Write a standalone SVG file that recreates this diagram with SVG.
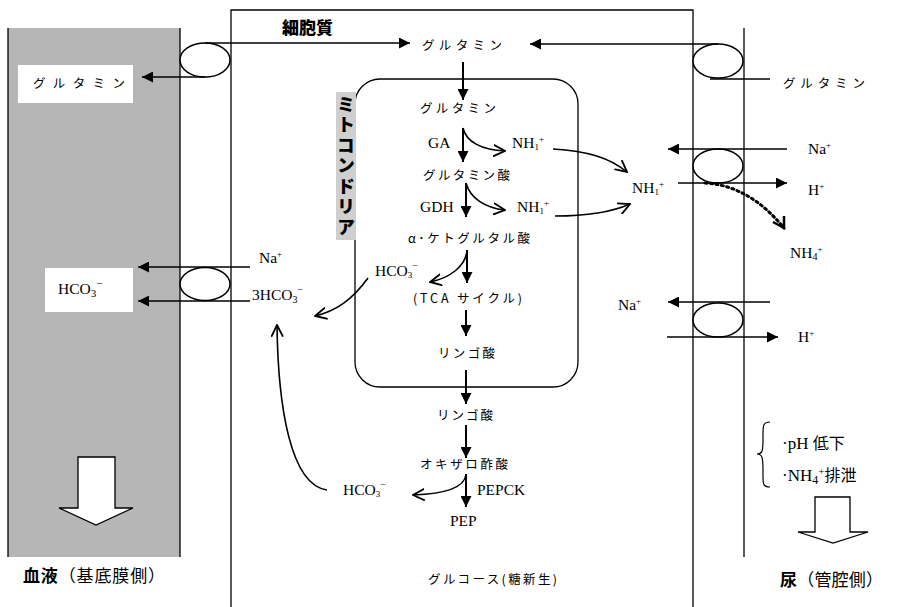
<svg xmlns="http://www.w3.org/2000/svg" width="907" height="607" viewBox="0 0 907 607">
<style>
.ln{fill:none;stroke:#000;stroke-width:1.3}
.ar{fill:none;stroke:#000;stroke-width:1.6}
.mt{fill:none;stroke:#000;stroke-width:2}
.ell{fill:#fff;stroke:#000;stroke-width:1.5}
.jp{font-family:"Noto Sans CJK JP","Liberation Serif",sans-serif;font-size:12.5px;fill:#000;font-weight:400}
.la{font-family:"Liberation Serif","Noto Sans CJK JP",serif;font-size:15.5px;fill:#000}
.big{font-family:"Liberation Serif","Noto Sans CJK JP",serif;font-size:17px;fill:#000}
.bold{font-family:"Noto Sans CJK JP",sans-serif;font-weight:900;fill:#000}
</style>
<defs>
<marker id="tri" viewBox="0 0 10 10" refX="10" refY="5" markerWidth="13" markerHeight="11" markerUnits="userSpaceOnUse" orient="auto"><path d="M0,0 L10,5 L0,10 z" fill="#000"/></marker>
<marker id="vee" viewBox="0 0 10 10" refX="9" refY="5" markerWidth="13" markerHeight="13" markerUnits="userSpaceOnUse" orient="auto"><path d="M0,0.5 L9,5 L0,9.5" fill="none" stroke="#000" stroke-width="1.4"/></marker>
</defs>
<rect width="907" height="607" fill="#fff"/>

<g id="blood">
<rect x="8" y="28" width="172" height="529" fill="#b6b6b6"/>
<line class="ln" x1="8" y1="28" x2="8" y2="557"/>
<line class="ln" x1="180" y1="28" x2="180" y2="557"/>
<path d="M78,457 H115 V508 H133 L96,525 L59,508 H78 Z" fill="#fff" stroke="#000" stroke-width="1.3"/>
</g>

<g id="cell">
<path class="ln" d="M231,607 V10 H693 V607"/>
<line class="ln" x1="744" y1="28" x2="744" y2="557"/>
</g>

<g id="mitochondria">
<rect x="355" y="79" width="223" height="308" rx="25" ry="25" class="ln"/>
<rect x="336" y="92" width="20" height="148" fill="#cfcfcf"/>
<text class="bold" font-size="18" x="346" y="95" writing-mode="vertical-rl" letter-spacing="2.5">ミトコンドリア</text>
</g>

<g id="cytoplasm-label"><text class="bold" font-size="17" x="282" y="34">細胞質</text></g>

<g id="transporter-gln-left"><ellipse class="ell" cx="205" cy="60" rx="25" ry="17"/></g>
<g id="transporter-gln-right"><ellipse class="ell" cx="718" cy="61" rx="25" ry="17"/></g>
<g id="transporter-nahco3"><ellipse class="ell" cx="205" cy="284" rx="25" ry="16.5"/></g>
<g id="transporter-nah-1"><ellipse class="ell" cx="718" cy="166" rx="25" ry="17"/></g>
<g id="transporter-nah-2"><ellipse class="ell" cx="718" cy="320" rx="25" ry="17"/></g>

<g id="connectors">
<path class="ar" d="M205,43 H410" marker-end="url(#tri)"/>
<path class="ar" d="M205,77 H142" marker-end="url(#tri)"/>
<path class="ar" d="M718,44 H530" marker-end="url(#tri)"/>
<path class="ar" d="M710,79 H770"/>
<path class="mt" d="M463,62 V100" marker-end="url(#tri)"/>
<path class="mt" d="M463,128 V162" marker-end="url(#tri)"/>
<path class="ar" d="M463,128 C466,142 482,150 505,151" marker-end="url(#vee)"/>
<path class="ar" d="M553,149 C588,151 610,158 627,172" marker-end="url(#vee)"/>
<path class="mt" d="M466,183 V217" marker-end="url(#tri)"/>
<path class="ar" d="M466,183 C470,198 485,208 505,210" marker-end="url(#vee)"/>
<path class="ar" d="M555,216 C590,216 612,212 630,204" marker-end="url(#vee)"/>
<path class="mt" d="M467,250 V283" marker-end="url(#tri)"/>
<path class="ar" d="M467,250 C466,266 450,278 430,282" marker-end="url(#vee)"/>
<path class="ar" d="M368,278 C352,300 336,311 315,316" marker-end="url(#vee)"/>
<path class="mt" d="M466,310 V336" marker-end="url(#tri)"/>
<path class="mt" d="M466,370 V404" marker-end="url(#tri)"/>
<path class="mt" d="M466,425 V458" marker-end="url(#tri)"/>
<path class="mt" d="M466,474 V507" marker-end="url(#tri)"/>
<path class="ar" d="M466,475 C464,489 440,494 413,495" marker-end="url(#vee)"/>
<path class="ar" d="M327,490 C290,485 278,405 277,325" marker-end="url(#vee)"/>
<path class="ar" d="M250,267 H138" marker-end="url(#tri)"/>
<path class="ar" d="M250,301 H138" marker-end="url(#tri)"/>
<path class="ar" d="M787,149 H668" marker-end="url(#tri)"/>
<path class="ar" d="M678,183 H787" marker-end="url(#tri)"/>
<path d="M705,183 C740,185 765,205 784,228" fill="none" stroke="#000" stroke-width="3" stroke-dasharray="2,3.5" stroke-linecap="round"/>
<path d="M773,222 L784,228 L784,216" fill="none" stroke="#000" stroke-width="2.5"/>
<path class="ar" d="M770,302 H668" marker-end="url(#tri)"/>
<path class="ar" d="M667,337 H778" marker-end="url(#tri)"/>
</g>

<g id="n-gln-box"><rect x="18" y="65" width="115" height="38" fill="#fff"/><text class="jp" x="33" y="88" textLength="92" lengthAdjust="spacing">グルタミン</text></g>
<g id="n-gln-top"><text class="jp" x="422" y="50" textLength="80" lengthAdjust="spacing">グルタミン</text></g>
<g id="n-gln-right"><text class="jp" x="783" y="88" textLength="82" lengthAdjust="spacing">グルタミン</text></g>
<g id="n-gln-mito"><text class="jp" x="420" y="113" textLength="76" lengthAdjust="spacing">グルタミン</text></g>
<g id="n-ga"><text class="la" x="428" y="148">GA</text></g>
<g id="n-nh-1"><text class="la" x="512" y="148">NH<tspan font-size="9" dy="2">1</tspan><tspan font-size="9" dy="-8">+</tspan></text></g>
<g id="n-glu"><text class="jp" x="423" y="180" textLength="87" lengthAdjust="spacing">グルタミン酸</text></g>
<g id="n-gdh"><text class="la" x="420" y="212">GDH</text></g>
<g id="n-nh-2"><text class="la" x="517" y="212">NH<tspan font-size="9" dy="2">1</tspan><tspan font-size="9" dy="-8">+</tspan></text></g>
<g id="n-akg"><text class="jp" x="408" y="243" textLength="122" lengthAdjust="spacing">α･ケトグルタル酸</text></g>
<g id="n-hco3-mito"><text class="la" x="375" y="276">HCO<tspan font-size="9" dy="2">3</tspan><tspan font-size="10" dy="-9">−</tspan></text></g>
<g id="n-tca"><text class="jp" x="413" y="303" textLength="109" lengthAdjust="spacing">(TCA サイクル)</text></g>
<g id="n-mal-mito"><text class="jp" x="438" y="358" textLength="57" lengthAdjust="spacing">リンゴ酸</text></g>
<g id="n-mal"><text class="jp" x="437" y="420" textLength="56" lengthAdjust="spacing">リンゴ酸</text></g>
<g id="n-oaa"><text class="jp" x="420" y="469" textLength="88" lengthAdjust="spacing">オキザロ酢酸</text></g>
<g id="n-pepck"><text class="la" x="477" y="495">PEPCK</text></g>
<g id="n-hco3-cyt"><text class="la" x="343" y="495">HCO<tspan font-size="9" dy="2">3</tspan><tspan font-size="10" dy="-9">−</tspan></text></g>
<g id="n-pep"><text class="la" x="450" y="526">PEP</text></g>
<g id="n-glucose"><text class="jp" x="428" y="584" textLength="129" lengthAdjust="spacing">グルコース(糖新生)</text></g>
<g id="n-na-left"><text class="la" x="259" y="263">Na<tspan font-size="9" dy="-6">+</tspan></text></g>
<g id="n-3hco3"><text class="la" x="252" y="300">3HCO<tspan font-size="10" dy="3">3</tspan><tspan font-size="10" dy="-10">−</tspan></text></g>
<g id="n-hco3-box"><rect x="45" y="268" width="88" height="44" fill="#fff"/><text class="la" x="58" y="294" font-size="16">HCO<tspan font-size="11" dy="3">3</tspan><tspan font-size="11" dy="-10">−</tspan></text></g>
<g id="n-nh-cyt"><text class="la" x="632" y="193">NH<tspan font-size="9" dy="2">1</tspan><tspan font-size="9" dy="-8">+</tspan></text></g>
<g id="n-na-r1"><text class="la" x="808" y="154">Na<tspan font-size="9" dy="-6">+</tspan></text></g>
<g id="n-h-r1"><text class="la" x="808" y="195">H<tspan font-size="9" dy="-6">+</tspan></text></g>
<g id="n-nh4-urine"><text class="la" x="790" y="258">NH<tspan font-size="10" dy="2">4</tspan><tspan font-size="9" dy="-8">+</tspan></text></g>
<g id="n-na-r2"><text class="la" x="618" y="310">Na<tspan font-size="9" dy="-6">+</tspan></text></g>
<g id="n-h-r2"><text class="la" x="798" y="342">H<tspan font-size="9" dy="-6">+</tspan></text></g>
<g id="n-effects">
<path d="M770,422 C762,422 763,427 763,440 C763,452 762,454 757,454 C762,454 763,457 763,470 C763,483 762,487 770,487" fill="none" stroke="#000" stroke-width="1.2"/>
<text class="big" x="782" y="449">·pH <tspan font-family="Noto Sans CJK JP" font-size="16">低下</tspan></text>
<text class="big" x="782" y="481">·NH<tspan font-size="12" dy="3">4</tspan><tspan font-size="11" dy="-9">+</tspan><tspan dy="6" font-family="Noto Sans CJK JP" font-size="16">排泄</tspan></text>
<path d="M815,497 H850 V532 H868 L833,543 L798,532 H815 Z" fill="#fff" stroke="#000" stroke-width="1.3"/>
</g>
<g id="n-blood-label"><text class="big" x="23" y="582" font-family="Noto Sans CJK JP" font-size="17.5" textLength="142" lengthAdjust="spacing"><tspan font-weight="700">血液</tspan><tspan font-weight="400">（基底膜側）</tspan></text></g>
<g id="n-urine-label"><text class="big" x="780" y="586" font-family="Noto Sans CJK JP" textLength="103" lengthAdjust="spacing"><tspan font-weight="700">尿</tspan><tspan font-weight="400">（管腔側）</tspan></text></g>
</svg>
